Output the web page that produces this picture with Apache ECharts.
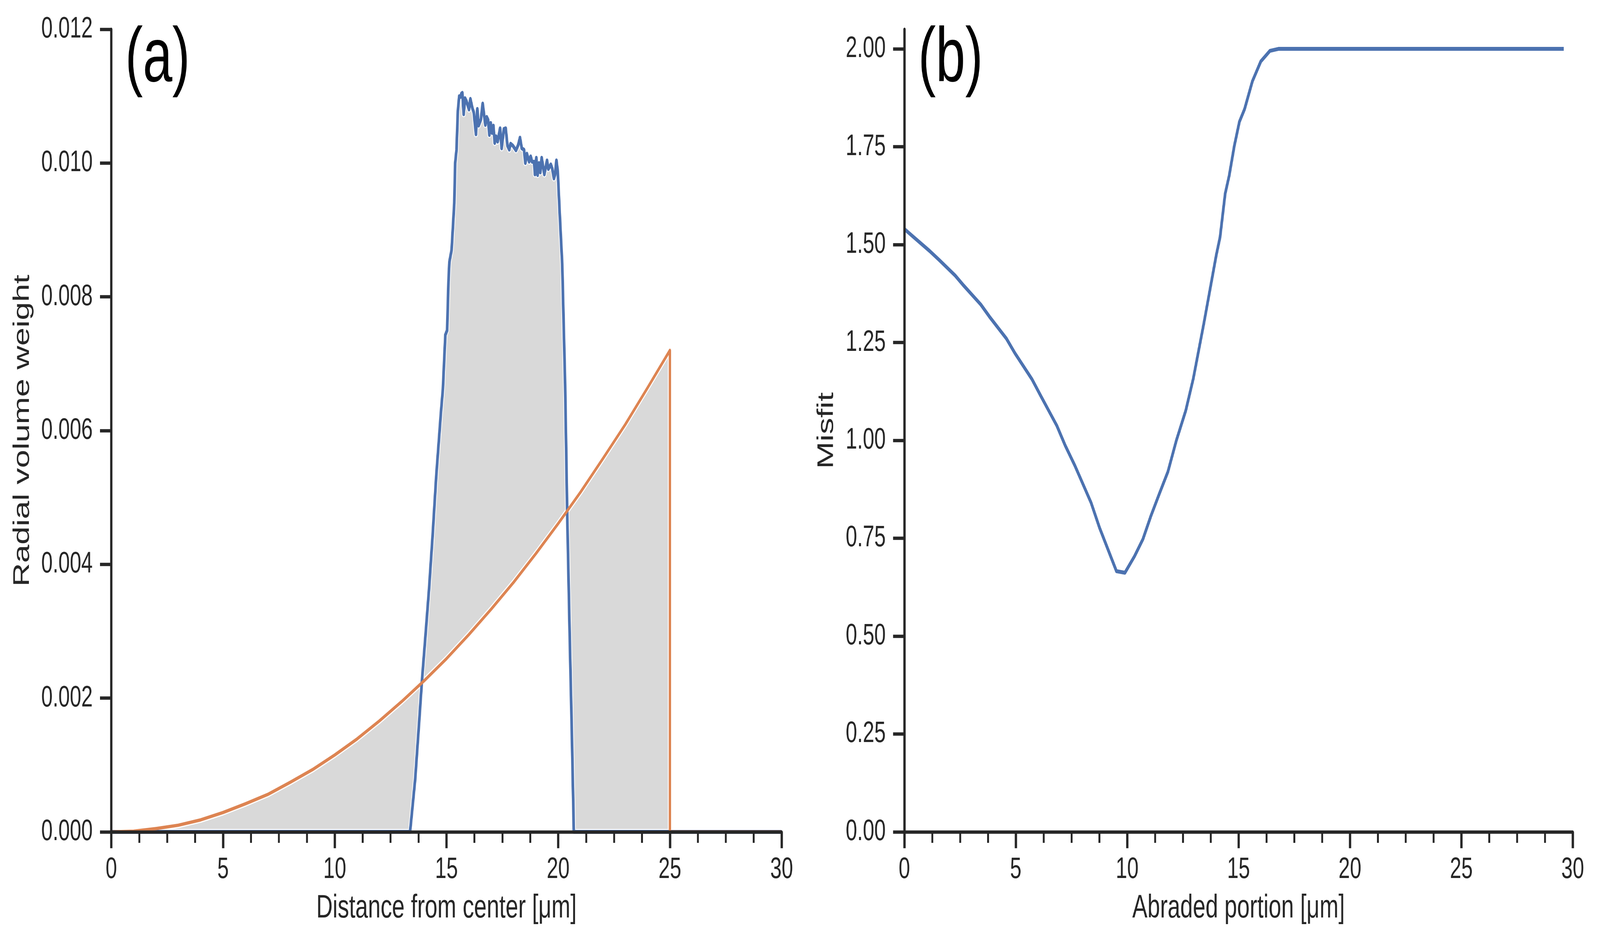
<!DOCTYPE html>
<html>
<head>
<meta charset="utf-8">
<script src="https://cdn.jsdelivr.net/npm/echarts@6/dist/echarts.min.js"></script>
<style>
  html, body { margin: 0; padding: 0; background: #fff; overflow: hidden; }
  #chart { width: 5918px; height: 2421px; transform-origin: 0 0; }
</style>
</head>
<body>
<div id="chart"></div>
<script>
// panel (a): radial volume weight
var blueX = [0, 13.37, 13.60, 13.78, 13.90, 14.02, 14.22, 14.38, 14.54, 14.75, 14.84, 14.95, 15.03, 15.09,
  15.13, 15.23, 15.35, 15.39, 15.45, 15.51, 15.57, 15.63, 15.67, 15.71, 15.77, 15.83, 15.89, 16.01,
  16.07, 16.16, 16.22, 16.32, 16.38, 16.44, 16.54, 16.62, 16.74, 16.80, 16.86, 16.92, 16.98, 17.04,
  17.10, 17.16, 17.22, 17.29, 17.40, 17.47, 17.57, 17.65, 17.73, 17.81, 17.87, 17.97, 18.11, 18.21,
  18.29, 18.37, 18.47, 18.53, 18.60, 18.70, 18.77, 18.83, 18.92, 18.96, 19.02, 19.08, 19.14, 19.20,
  19.26, 19.38, 19.50, 19.56, 19.67, 19.73, 19.81, 19.86, 19.92, 19.98, 20.06, 20.18, 20.31, 20.40,
  20.51, 20.61, 20.70, 30];
var blueY = [0, 0, 0.00079, 0.00166, 0.00225, 0.00276, 0.00363, 0.00443, 0.00531, 0.00626, 0.00662, 0.00743, 0.00750, 0.00823,
  0.00852, 0.00870, 0.00940, 0.01000, 0.01020, 0.01078, 0.01100, 0.01099, 0.01104, 0.01105, 0.01073, 0.01097, 0.01093, 0.01080,
  0.01096, 0.01082, 0.01076, 0.01043, 0.01081, 0.01056, 0.01065, 0.01089, 0.01057, 0.01069, 0.01065, 0.01042, 0.01060, 0.01045,
  0.01056, 0.01030, 0.01040, 0.01032, 0.01052, 0.01022, 0.01051, 0.01052, 0.01026, 0.01020, 0.01029, 0.01026, 0.01019, 0.01027,
  0.01038, 0.01022, 0.01020, 0.01000, 0.01014, 0.01002, 0.01010, 0.01002, 0.01002, 0.00983, 0.01008, 0.00982, 0.01000, 0.00986,
  0.01008, 0.00983, 0.01004, 0.00991, 0.00998, 0.00992, 0.00977, 0.00983, 0.01004, 0.00988, 0.00930, 0.00849, 0.00669, 0.00482,
  0.00302, 0.00150, 0, 0];

var orangeX = [0, 1, 2, 3, 4, 5, 6, 7, 8, 9, 10, 11, 12, 13, 14, 15, 16, 17, 18, 19, 20, 21, 22, 23, 24, 25, 25, 30];
var orangeY = [0, 0.00001, 0.00005, 0.0001, 0.00018, 0.00029, 0.00042, 0.00056, 0.00074, 0.00093, 0.00115, 0.00139,
  0.00166, 0.00195, 0.00226, 0.00259, 0.00295, 0.00333, 0.00373, 0.00416, 0.00461, 0.00508, 0.00558, 0.00609,
  0.00664, 0.0072, 0, 0];

// panel (b): misfit vs abraded portion
var misfitX = [0, 0.38, 1.13, 1.56, 2.28, 2.67, 3.43, 3.82, 4.58, 4.96, 5.73, 6.11, 6.84, 7.22, 7.65, 8.38, 8.76,
  9.52, 9.90, 10.33, 10.71, 11.06, 11.44, 11.83, 12.21, 12.63, 12.97, 13.45, 14.00, 14.17, 14.40, 14.58, 14.81,
  15.04, 15.27, 15.62, 16.00, 16.41, 16.79, 29.6];
var misfitY = [1.54, 1.521, 1.484, 1.461, 1.421, 1.395, 1.347, 1.316, 1.26, 1.223, 1.156, 1.115, 1.038, 0.987, 0.936,
  0.841, 0.777, 0.666, 0.662, 0.704, 0.748, 0.806, 0.863, 0.92, 1.0, 1.076, 1.158, 1.301, 1.473, 1.519, 1.63,
  1.676, 1.752, 1.814, 1.846, 1.917, 1.968, 1.995, 2.0, 2.0];

var misfitTicks = [0, 0.25, 0.5, 0.75, 1.0, 1.25, 1.5, 1.75, 2.0];

function pairs(xs, ys) {
  return xs.map(function (x, i) { return [x, ys[i]]; });
}

var ink = '#262626';
var font = "'Liberation Sans', Arial, sans-serif";

// the browser window can come out smaller than the figure: fit the figure into it
var box = document.getElementById('chart');
var sx = Math.min(1, window.innerWidth / 5918);
var sy = Math.min(1, window.innerHeight / 2421);
box.style.transform = 'scale(' + sx + ',' + sy + ')';

function xAxisFor(idx, title) {
  return {
    type: 'value', gridIndex: idx, min: 0, max: 30, interval: 5, z: 5,
    name: title, nameLocation: 'middle', nameGap: 154,
    nameTextStyle: { fontSize: 84, color: ink, fontFamily: font },
    axisLine: { onZero: false, lineStyle: { color: ink, width: 8.5 } },
    axisTick: { length: 41.7, lineStyle: { color: ink, width: 8.5 } },
    minorTick: { show: true, splitNumber: 4, length: 28, lineStyle: { color: ink, width: 7 } },
    splitLine: { show: false },
    minorSplitLine: { show: false },
    axisLabel: { fontSize: 76, color: ink, fontFamily: font, margin: 59, showMinLabel: true, showMaxLabel: true }
  };
}

var option = {
  animation: false,
  backgroundColor: '#fff',
  grid: [
    { left: 411.7, top: 75, width: 2479.3, height: 2054 },
    { left: 3345, top: 75, width: 2472, height: 2054 }
  ],
  xAxis: [
    xAxisFor(0, 'Distance from center [μm]'),
    xAxisFor(1, 'Abraded portion [μm]')
  ],
  yAxis: [
    {
      type: 'value', gridIndex: 0, min: 0, max: 0.012, interval: 0.002, z: 5,
      name: 'Radial volume weight', nameLocation: 'middle', nameGap: 286, nameRotate: 90,
      nameTextStyle: { fontSize: 84, color: ink, fontFamily: font },
      axisLine: { show: true, lineStyle: { color: ink, width: 8.5 } },
      axisTick: { show: true, length: 41.7, lineStyle: { color: ink, width: 8.5 } },
      splitLine: { show: false },
      axisLabel: {
        fontSize: 76, color: ink, fontFamily: font, margin: 69, showMinLabel: true, showMaxLabel: true,
        formatter: function (v) { return v.toFixed(3); }
      }
    },
    {
      type: 'value', gridIndex: 1, min: 0, max: 2.05, interval: 0.25, z: 5,
      name: 'Misfit', nameLocation: 'middle', nameGap: 245, nameRotate: 90,
      nameTextStyle: { fontSize: 84, color: ink, fontFamily: font },
      axisLine: { show: true, lineStyle: { color: ink, width: 8.5 } },
      axisTick: { show: true, customValues: misfitTicks, length: 41.7, lineStyle: { color: ink, width: 8.5 } },
      splitLine: { show: false },
      axisLabel: {
        customValues: misfitTicks,
        fontSize: 76, color: ink, fontFamily: font, margin: 69,
        formatter: function (v) { return v > 2.001 ? '' : v.toFixed(2); }
      }
    }
  ],
  graphic: [
    { type: 'text', x: 463, y: 154, z: 10,
      style: { text: '(a)', fontSize: 196, fontFamily: font, fill: '#000', align: 'left', verticalAlign: 'middle' } },
    { type: 'text', x: 3396, y: 154, z: 10,
      style: { text: '(b)', fontSize: 196, fontFamily: font, fill: '#000', align: 'left', verticalAlign: 'middle' } }
  ],
  series: [
    {
      // grey area between the two curves
      type: 'custom', xAxisIndex: 0, yAxisIndex: 0, z: 1, silent: true,
      data: [[0, 0]],
      renderItem: function (params, api) {
        var pts = [];
        for (var i = 0; i < blueX.length; i++) pts.push(api.coord([blueX[i], blueY[i]]));
        for (var j = orangeX.length - 1; j >= 0; j--) pts.push(api.coord([orangeX[j], orangeY[j]]));
        return {
          type: 'polygon',
          shape: { points: pts },
          style: { fill: '#d9d9d9', stroke: '#ffffff', lineWidth: 15, lineJoin: 'round' }
        };
      }
    },
    {
      type: 'line', xAxisIndex: 0, yAxisIndex: 0, z: 3, showSymbol: false, silent: true,
      data: pairs(blueX, blueY),
      lineStyle: { color: '#4C72B0', width: 10, join: 'round' },
      itemStyle: { color: '#4C72B0' }
    },
    {
      type: 'line', xAxisIndex: 0, yAxisIndex: 0, z: 3, showSymbol: false, silent: true,
      data: pairs(orangeX, orangeY),
      lineStyle: { color: '#DD8452', width: 8.5, join: 'round' },
      itemStyle: { color: '#DD8452' }
    },
    {
      type: 'line', xAxisIndex: 1, yAxisIndex: 1, z: 3, showSymbol: false, silent: true,
      data: pairs(misfitX, misfitY),
      lineStyle: { color: '#4C72B0', width: 10, join: 'round' },
      itemStyle: { color: '#4C72B0' }
    }
  ]
};

var chart = echarts.init(box, null, { renderer: 'canvas' });
chart.setOption(option);
</script>
</body>
</html>
